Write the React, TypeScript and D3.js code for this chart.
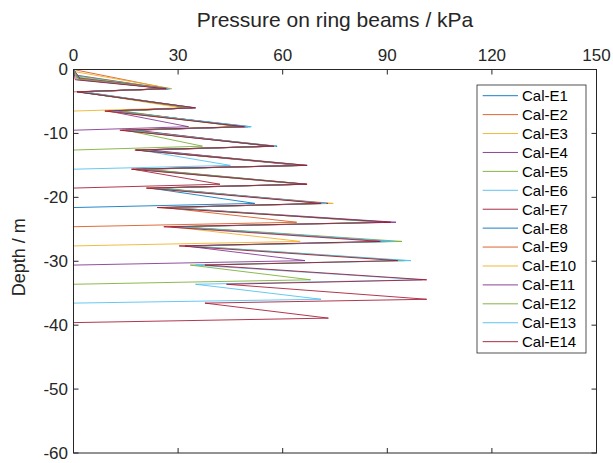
import React from "react";
import * as d3 from "d3";

const SERIES_NAMES = [
  "Cal-E1", "Cal-E2", "Cal-E3", "Cal-E4", "Cal-E5", "Cal-E6", "Cal-E7",
  "Cal-E8", "Cal-E9", "Cal-E10", "Cal-E11", "Cal-E12", "Cal-E13", "Cal-E14",
];
const COLORS = [
  "#0072BD", "#D95319", "#EDB120", "#7E2F8E", "#77AC30", "#4DBEEE", "#A2142F",
  "#0072BD", "#D95319", "#EDB120", "#7E2F8E", "#77AC30", "#4DBEEE", "#A2142F",
];
const X_TICKS = [0, 30, 60, 90, 120, 150];
const Y_TICKS = [0, -10, -20, -30, -40, -50, -60];

// depths (m) of the peak and trough of each ring-beam segment
const PEAK_DEPTHS = [3.0, 6.0, 8.95, 12.0, 15.0, 17.95, 20.95, 23.9, 26.9, 29.9, 32.9, 35.95, 38.9];
const TROUGH_DEPTHS = [3.5, 6.5, 9.5, 12.6, 15.6, 18.55, 21.6, 24.6, 27.6, 30.6, 33.6, 36.55, 39.6];
const BOTTOM_DEPTH = 60;

// starting point of each curve near the surface (pressure kPa, depth m)
const START_P = [0, 0, 0, 1, 1, 1.5, 1, 2, 1.5, 1, 2, 1.5, 1, 0.5];
const START_D = [0, 0, 0.3, 0.9, 1.0, 1.2, 1.3, 1.5, 1.4, 1.5, 1.6, 1.5, 1.6, 1.6];

// pressure at each peak / trough (kPa)
const E1_PEAKS: number[] = [];
const E1_TROUGHS: number[] = [];
const E2_PEAKS = [27.5];
const E2_TROUGHS: number[] = [];
const E3_PEAKS = [28.2, 31];
const E3_TROUGHS = [2];
const E4_PEAKS = [26.5, 33.5, 33];
const E4_TROUGHS = [1.5, 10];
const E5_PEAKS = [27, 34, 48, 37];
const E5_TROUGHS = [2, 11, 15];
const E6_PEAKS = [26.8, 34.5, 49, 56, 45];
const E6_TROUGHS = [1.5, 12, 16, 19];
const E7_PEAKS = [27.2, 33.8, 50, 57, 65, 42];
const E7_TROUGHS = [2.5, 10, 14, 18, 17];
const E8_PEAKS = [26.5, 35, 50.7, 58.4, 67, 66, 52];
const E8_TROUGHS = [1, 11, 15, 20, 18, 22];
const E9_PEAKS = [27.5, 34, 48.5, 57.5, 66, 66.5, 72, 64];
const E9_TROUGHS = [3, 13, 17, 19, 19, 23, 26];
const E10_PEAKS = [26.2, 34.8, 50, 58, 66.5, 65.5, 74.5, 90, 65];
const E10_TROUGHS = [2, 9, 14, 21, 17, 21, 25, 28];
const E11_PEAKS = [27, 34.2, 49.5, 56.5, 65, 67, 73, 92.5, 91, 66.4];
const E11_TROUGHS = [2, 12, 18, 22, 20, 24, 27, 30, 32];
const E12_PEAKS = [26.8, 33.5, 47.5, 57, 66.5, 66.8, 71, 88, 94.2, 95, 68];
const E12_TROUGHS = [1.5, 14, 16, 18, 21, 25, 28, 31, 34, 33.5];
const E13_PEAKS = [27.8, 34.5, 51, 58, 66, 66, 72.5, 89, 92, 96.8, 100, 71];
const E13_TROUGHS = [3, 11, 15, 19, 18, 23, 27, 29, 33, 35, 35];
const E14_PEAKS = [26.6, 35, 49, 57.5, 67, 66.9, 71, 91, 88, 93, 101.3, 101.3, 73.1];
const E14_TROUGHS = [1, 9, 13.3, 17.6, 16.6, 20.9, 24, 25.9, 30.3, 37.7, 43.9, 37.7];

const PEAKS = [E1_PEAKS, E2_PEAKS, E3_PEAKS, E4_PEAKS, E5_PEAKS, E6_PEAKS, E7_PEAKS,
  E8_PEAKS, E9_PEAKS, E10_PEAKS, E11_PEAKS, E12_PEAKS, E13_PEAKS, E14_PEAKS];
const TROUGHS = [E1_TROUGHS, E2_TROUGHS, E3_TROUGHS, E4_TROUGHS, E5_TROUGHS, E6_TROUGHS, E7_TROUGHS,
  E8_TROUGHS, E9_TROUGHS, E10_TROUGHS, E11_TROUGHS, E12_TROUGHS, E13_TROUGHS, E14_TROUGHS];

function buildSeries(i: number): [number, number][] {
  const pts: [number, number][] = [[0, 0], [START_P[i], -START_D[i]]];
  const peaks = PEAKS[i];
  const troughs = TROUGHS[i];
  peaks.forEach((p, j) => {
    pts.push([p, -PEAK_DEPTHS[j]]);
    if (j < troughs.length) pts.push([troughs[j], -TROUGH_DEPTHS[j]]);
  });
  if (peaks.length > 0) pts.push([0, -TROUGH_DEPTHS[peaks.length - 1]]);
  pts.push([0, -BOTTOM_DEPTH]);
  return pts;
}

const W = 613;
const H = 463;
const L = 73.5, R = 596.5, T = 69.5, B = 453;
const AX = "#262626";
const FONT = "'Liberation Sans', Arial, Helvetica, sans-serif";

export default function App() {
  const x = d3.scaleLinear().domain([0, 150]).range([L, R]);
  const y = d3.scaleLinear().domain([-60, 0]).range([B, T]);
  const line = d3.line<[number, number]>().x((d) => x(d[0])).y((d) => y(d[1]));
  const tick = 5;

  const legX = 477, legY = 85, legW = 109, legH = 268;
  const rowY0 = 95.7, rowStep = 18.92;

  return (
    <svg width={W} height={H} style={{ position: "absolute", left: 0, top: 0, background: "#fff" }}
      fontFamily={FONT}>
      <rect x={0} y={0} width={W} height={H} fill="#fff" />
      <g>
        {SERIES_NAMES.map((name, i) => (
          <path key={name} d={line(buildSeries(i)) || ""} fill="none" stroke={COLORS[i]}
            strokeWidth={0.85} strokeLinejoin="miter" />
        ))}
      </g>
      {/* axes box */}
      <rect x={L} y={T} width={R - L} height={B - T} fill="none" stroke={AX} strokeWidth={1} />
      {X_TICKS.map((v) => (
        <g key={"xt" + v}>
          <line x1={x(v)} x2={x(v)} y1={T} y2={T + tick} stroke={AX} />
          <line x1={x(v)} x2={x(v)} y1={B} y2={B - tick} stroke={AX} />
          <text x={x(v)} y={61} textAnchor="middle" fontSize={17} fill={AX}>{v}</text>
        </g>
      ))}
      {Y_TICKS.map((v) => (
        <g key={"yt" + v}>
          <line x1={L} x2={L + tick} y1={y(v)} y2={y(v)} stroke={AX} />
          <line x1={R} x2={R - tick} y1={y(v)} y2={y(v)} stroke={AX} />
          <text x={68} y={y(v)} dy="0.35em" textAnchor="end" fontSize={17} fill={AX}>{v}</text>
        </g>
      ))}
      <text x={(L + R) / 2} y={27} textAnchor="middle" fontSize={21} fill={AX}>
        Pressure on ring beams / kPa
      </text>
      <text transform={`translate(25,${(T + B) / 2 - 4}) rotate(-90)`} textAnchor="middle" fontSize={18}
        fill={AX}>Depth / m</text>
      {/* legend */}
      <rect x={legX} y={legY} width={legW} height={legH} fill="#fff" stroke={AX} strokeWidth={0.8} />
      {SERIES_NAMES.map((name, i) => (
        <g key={"lg" + name}>
          <line x1={482.7} x2={518} y1={rowY0 + i * rowStep} y2={rowY0 + i * rowStep}
            stroke={COLORS[i]} strokeWidth={0.9} />
          <text x={522} y={rowY0 + i * rowStep} dy="0.36em" fontSize={15} fill="#000">{name}</text>
        </g>
      ))}
    </svg>
  );
}
